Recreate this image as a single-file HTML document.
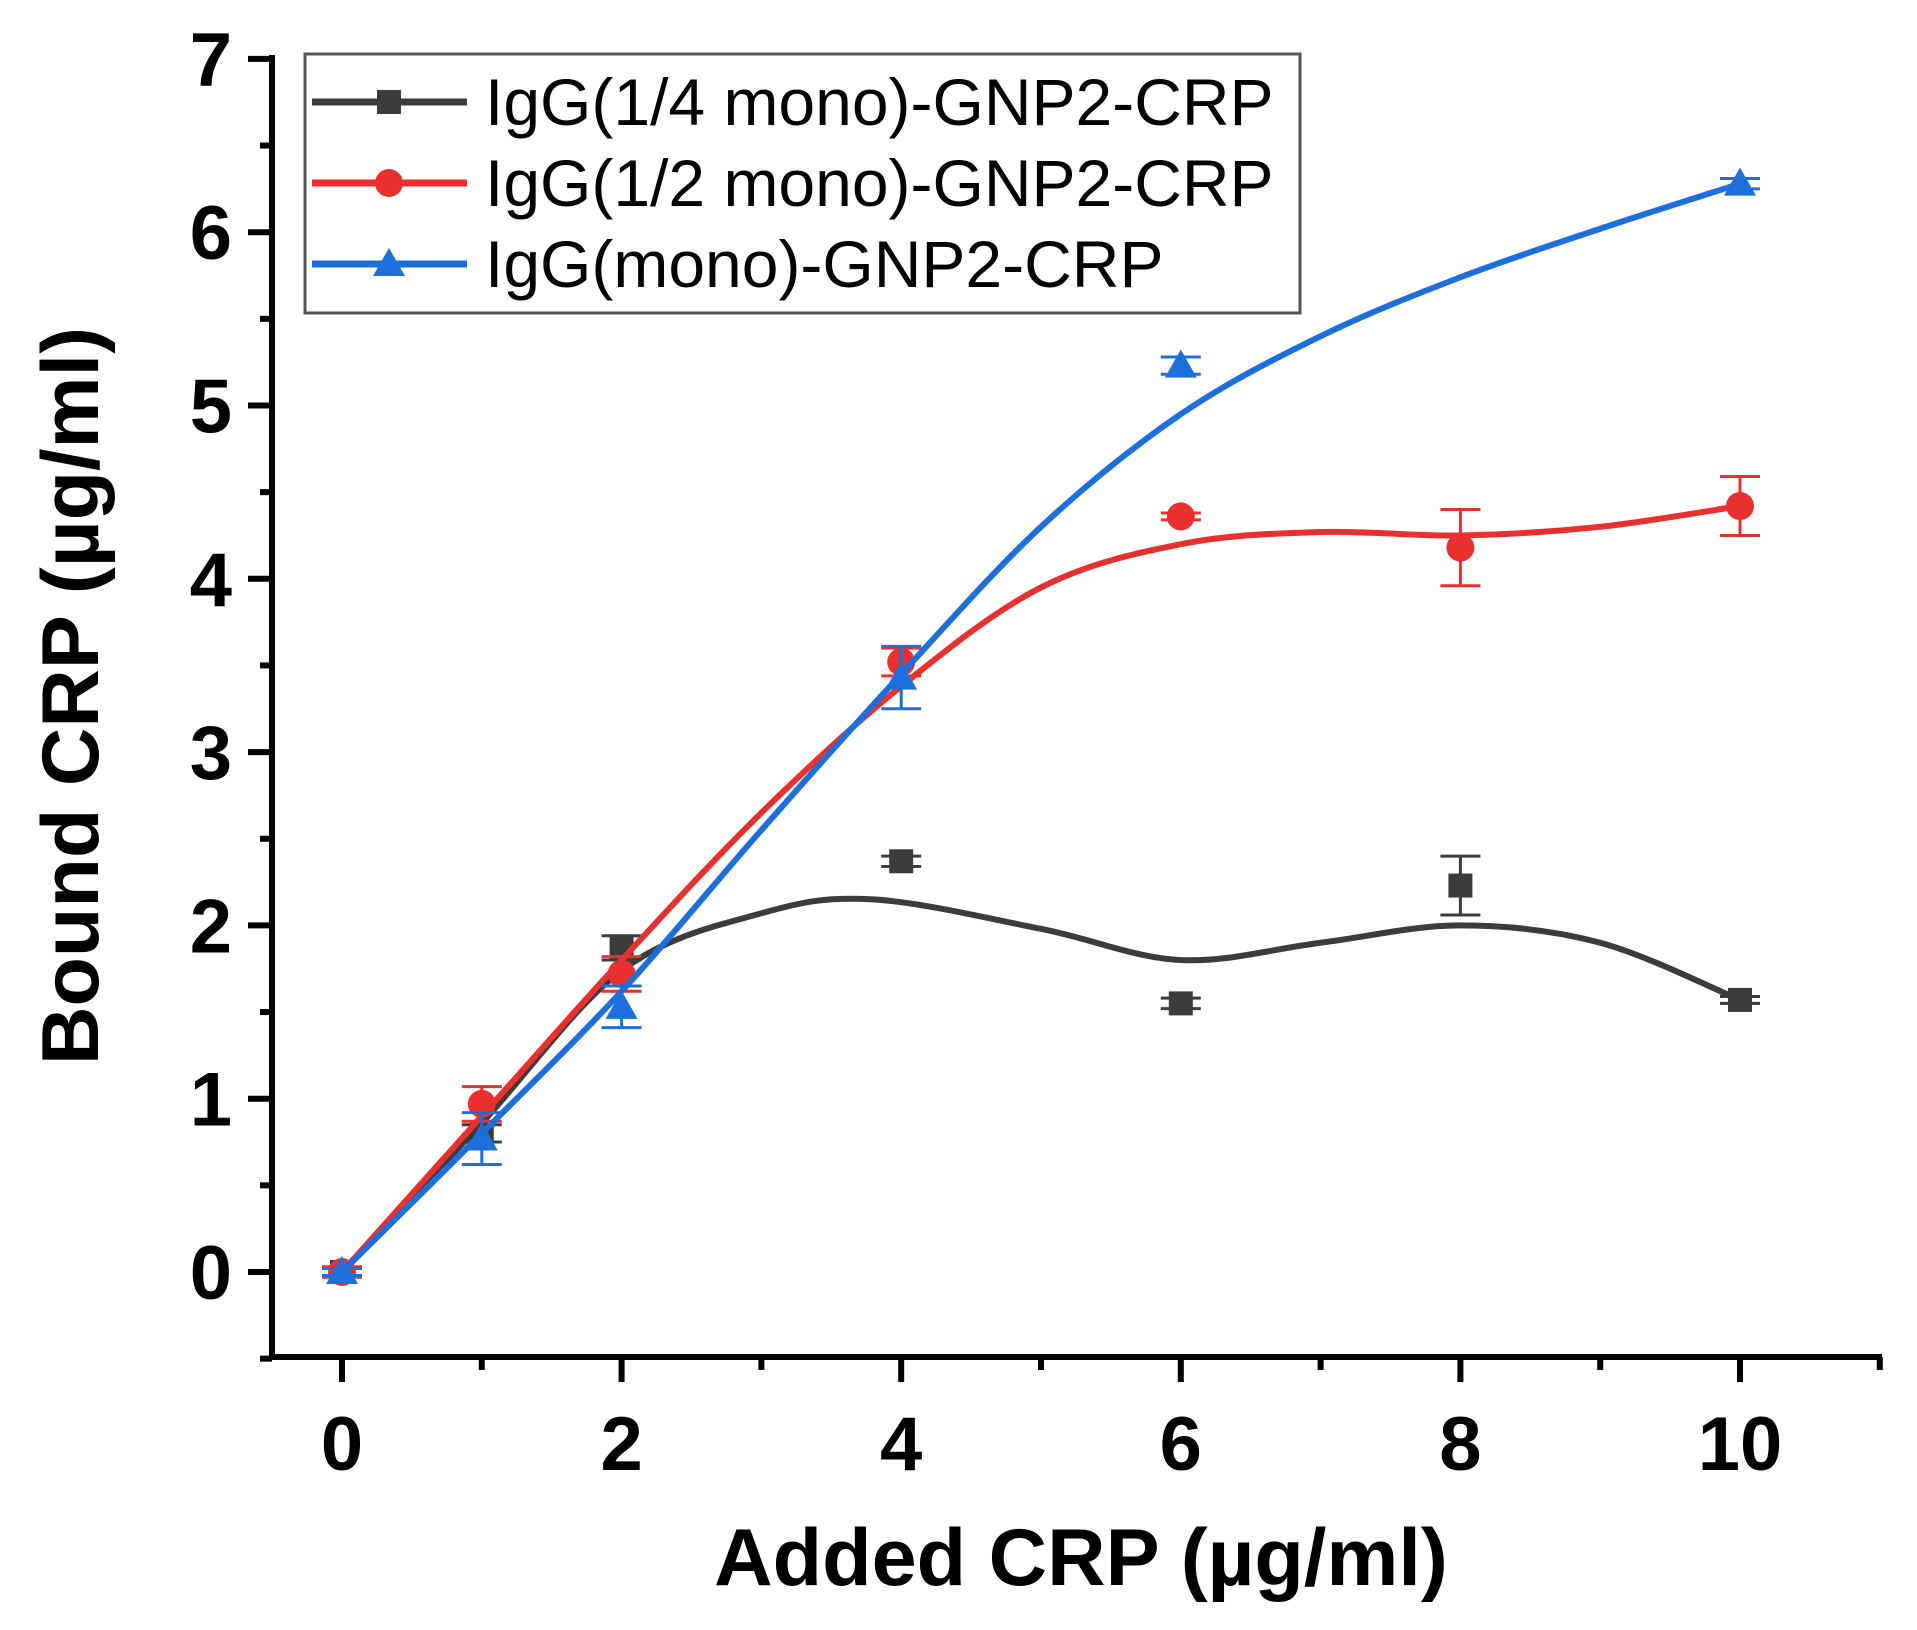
<!DOCTYPE html>
<html><head><meta charset="utf-8"><style>
html,body{margin:0;padding:0;background:#fff;}
svg{display:block;}
</style></head><body>
<svg id="s" width="1917" height="1630" xmlns="http://www.w3.org/2000/svg" font-family="'Liberation Sans',sans-serif">
<rect width="1917" height="1630" fill="#fff"/>
<g id="axes" stroke="#000" stroke-width="6" fill="none"></g>
<g id="lbl" font-weight="bold" font-size="76" fill="#000"></g>
<g id="data"></g>
<text x="1081" y="1585" font-size="81" font-weight="bold" text-anchor="middle">Added CRP (µg/ml)</text>
<text transform="translate(98,696) rotate(-90)" font-size="81" font-weight="bold" text-anchor="middle">Bound CRP (µg/ml)</text>
<rect x="305" y="54" width="995" height="259" fill="#fff" stroke="#555" stroke-width="3"/>
<g id="leg"></g>
</svg>
<script>
const NS="http://www.w3.org/2000/svg";
const X=v=>342+v*139.8, Y=v=>1272-v*173.3;
function el(p,t,a,txt){const e=document.createElementNS(NS,t);for(const k in a)e.setAttribute(k,a[k]);if(txt!=null)e.textContent=txt;document.getElementById(p).appendChild(e);return e;}
el('axes','line',{x1:272,y1:55,x2:272,y2:1360});
el('axes','line',{x1:269,y1:1357,x2:1882,y2:1357});
for(let i=-0.5;i<=7.01;i+=0.5){const maj=Math.abs(i-Math.round(i))<0.01;el('axes','line',{x1:272,x2:maj?248:260,y1:Y(i),y2:Y(i)});}
for(let i=0;i<=11;i++){const maj=i%2==0;el('axes','line',{y1:1357,y2:maj?1382:1370,x1:X(i),x2:X(i)});}
for(let i=0;i<=7;i++)el('lbl','text',{x:232,y:Y(i)+27,'text-anchor':'end'},String(i));
for(let i=0;i<=10;i+=2)el('lbl','text',{x:X(i),y:1470,'text-anchor':'middle'},String(i));
function spline(pts){let d=`M${X(pts[0][0])},${Y(pts[0][1])}`;const P=pts.map(p=>[X(p[0]),Y(p[1])]);
for(let i=0;i<P.length-1;i++){const p0=P[Math.max(0,i-1)],p1=P[i],p2=P[i+1],p3=P[Math.min(P.length-1,i+2)];
const c1=[p1[0]+(p2[0]-p0[0])/6,p1[1]+(p2[1]-p0[1])/6],c2=[p2[0]-(p3[0]-p1[0])/6,p2[1]-(p3[1]-p1[1])/6];
d+=` C${c1[0]},${c1[1]} ${c2[0]},${c2[1]} ${p2[0]},${p2[1]}`;}return d;}
function marker(g,type,x,y,c){if(type=='sq')el(g,'rect',{x:x-12,y:y-12,width:24,height:24,fill:c});
else if(type=='ci')el(g,'circle',{cx:x,cy:y,r:14,fill:c});
else el(g,'polygon',{points:`${x},${y-16} ${x-16},${y+12} ${x+16},${y+12}`,fill:c});}
const series=[
{c:'#3c3c3c',m:'sq',pts:[[0,0,0.02],[1,0.8,0.05],[2,1.87,0.07],[4,2.37,0.03],[6,1.55,0.03],[8,2.23,0.17],[10,1.57,0.02]],
 curve:[[0,0],[1,0.86],[2,1.74],[3,2.07],[3.8,2.15],[5,1.98],[6,1.8],[7,1.9],[8,2.0],[9,1.9],[10,1.57]]},
{c:'#e8302f',m:'ci',pts:[[0,0,0.03],[1,0.97,0.1],[2,1.72,0.1],[4,3.52,0.08],[6,4.36,0.02],[8,4.18,0.22],[10,4.42,0.17]],
 curve:[[0,0],[1,0.9],[2,1.8],[3,2.65],[4,3.38],[5,3.95],[6,4.2],[7,4.27],[8,4.25],[9,4.3],[10,4.42]]},
{c:'#1d6fdc',m:'tr',pts:[[0,0,0.02],[1,0.77,0.15],[2,1.53,0.12],[4,3.43,0.18],[6,5.23,0.05],[10,6.28,0.03]],
 curve:[[0,0],[1,0.8],[2,1.62],[3,2.55],[4,3.45],[5,4.3],[6,4.95],[7,5.4],[8,5.74],[9,6.02],[10,6.28]]}];
series.forEach(s=>{
 el('data','path',{d:spline(s.curve),fill:'none',stroke:s.c,'stroke-width':6});
 s.pts.forEach(p=>{const x=X(p[0]);const y1=Y(p[1]+p[2]),y2=Y(p[1]-p[2]);
  el('data','line',{x1:x,x2:x,y1:y1,y2:y2,stroke:s.c,'stroke-width':3});
  el('data','line',{x1:x-20,x2:x+20,y1:y1,y2:y1,stroke:s.c,'stroke-width':3});
  el('data','line',{x1:x-20,x2:x+20,y1:y2,y2:y2,stroke:s.c,'stroke-width':3});
  marker('data',s.m,x,Y(p[1]),s.c);});
});
const names=['IgG(1/4 mono)-GNP2-CRP','IgG(1/2 mono)-GNP2-CRP','IgG(mono)-GNP2-CRP'];
[102,183,264].forEach((y,i)=>{const s=series[i];
 el('leg','line',{x1:312,x2:467,y1:y,y2:y,stroke:s.c,'stroke-width':7});
 marker('leg',s.m,389,y,s.c);
 el('leg','text',{x:485,y:y+23,'font-size':66,fill:'#000'},names[i]);});
</script>
</body></html>
